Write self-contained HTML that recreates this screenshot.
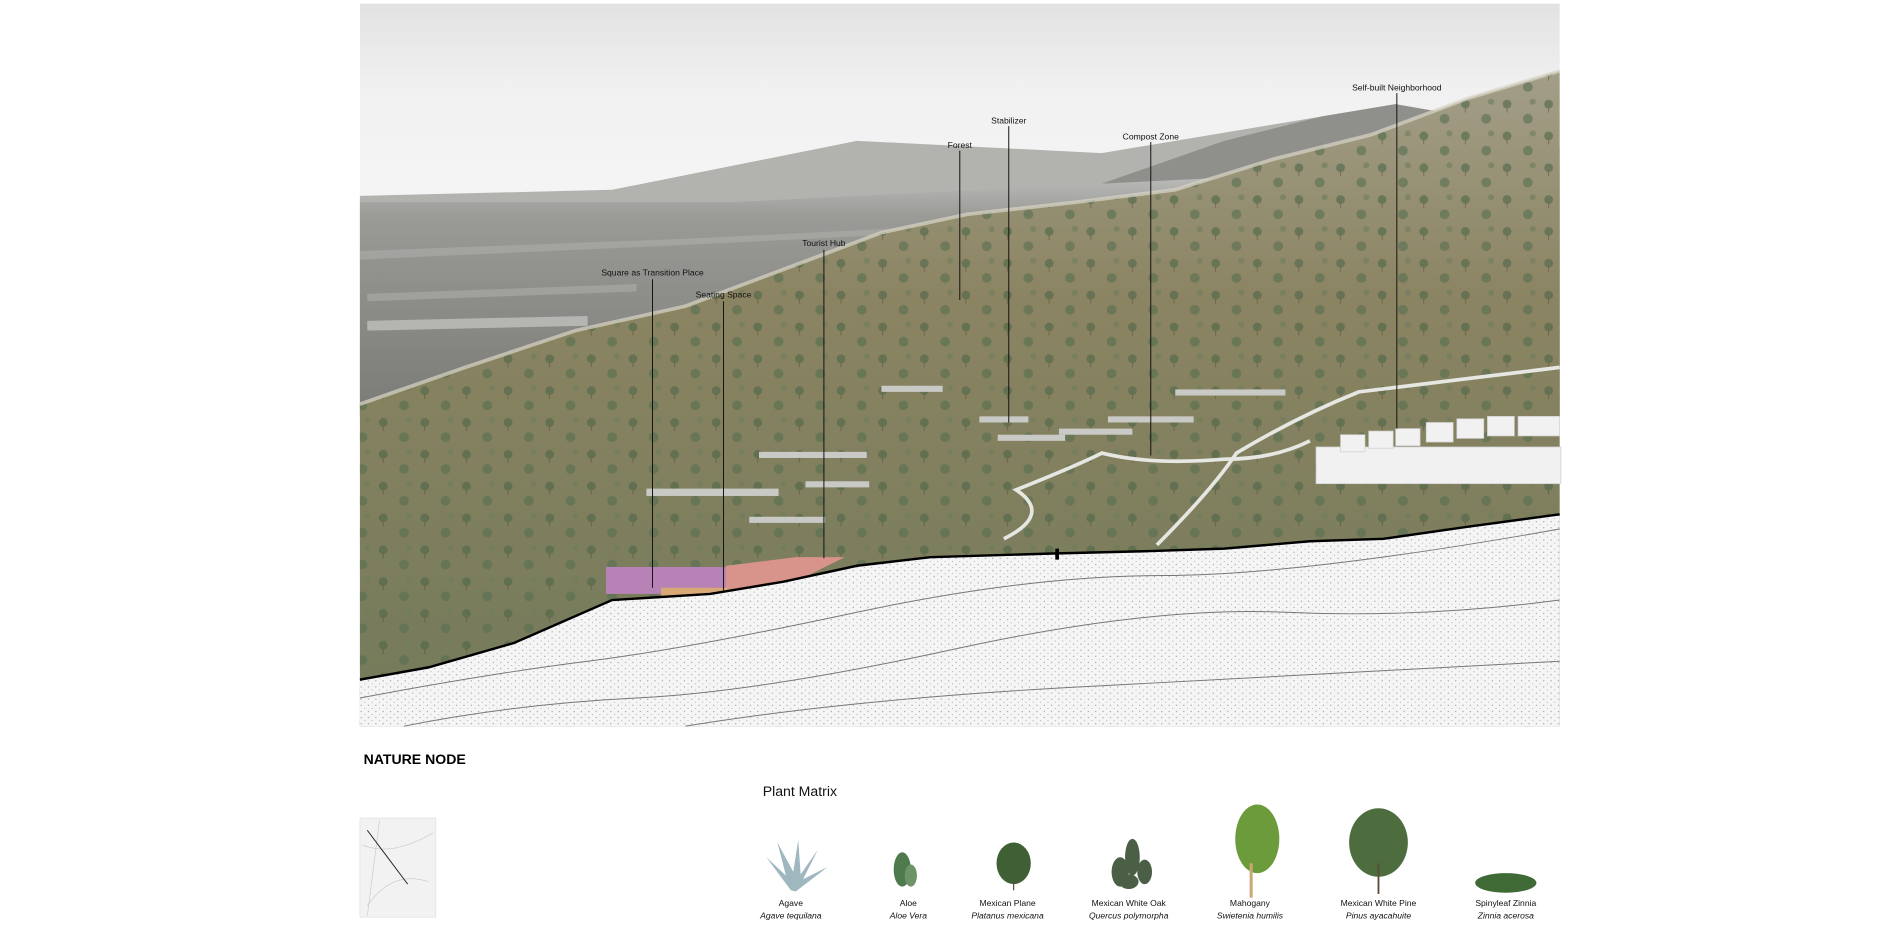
<!DOCTYPE html>
<html><head><meta charset="utf-8"><style>
html,body{margin:0;padding:0;background:#fff;}
svg{display:block;}
text{font-family:"Liberation Sans",sans-serif;}
</style></head><body>
<svg width="1900" height="927" viewBox="0 0 1552 757" preserveAspectRatio="none" xmlns="http://www.w3.org/2000/svg">
<defs>
<linearGradient id="sky" x1="0" y1="0" x2="0" y2="1">
<stop offset="0" stop-color="#e2e2e2"/><stop offset="0.12" stop-color="#f1f1f1"/><stop offset="0.25" stop-color="#f4f4f4"/><stop offset="1" stop-color="#dcdcda"/>
</linearGradient>
<linearGradient id="valley" x1="0" y1="0" x2="0" y2="1">
<stop offset="0" stop-color="#c4c4c2"/><stop offset="0.2" stop-color="#9a9a97"/><stop offset="0.6" stop-color="#8a8a86"/><stop offset="1" stop-color="#7a7b76"/>
</linearGradient>
<linearGradient id="hill" x1="0" y1="0" x2="0" y2="1">
<stop offset="0" stop-color="#a39e88"/><stop offset="0.35" stop-color="#8b8462"/><stop offset="1" stop-color="#737a5a"/>
</linearGradient>
<pattern id="trees" width="34" height="26" patternUnits="userSpaceOnUse">
<circle cx="7" cy="7" r="3.6" fill="#4d6648"/><circle cx="24" cy="19" r="4" fill="#566f50"/><circle cx="28" cy="5" r="2.5" fill="#6d7d5c"/>
<line x1="7" y1="10" x2="7" y2="14" stroke="#5a4a3a" stroke-width="0.7"/>
</pattern>
<pattern id="dots" width="6" height="5" patternUnits="userSpaceOnUse">
<rect width="6" height="5" fill="#f5f5f5"/><circle cx="1" cy="1" r="0.5" fill="#999"/><circle cx="4" cy="3.5" r="0.45" fill="#aaa"/>
</pattern>
</defs>
<rect x="294" y="3" width="980" height="590" fill="url(#sky)"/>
<!-- far mountain -->
<path d="M294 160 L500 155 L700 115 L900 125 L1050 100 L1140 85 L1180 95 L1274 120 L1274 340 L294 340Z" fill="#b2b2af"/>
<path d="M900 150 L1000 115 L1080 95 L1140 85 L1180 92 L1200 110 L1100 150Z" fill="#8f8f8b"/>
<path d="M294 165 L600 165 L800 155 L1000 145 L1274 135 L1274 340 L294 340Z" fill="url(#valley)"/>
<g fill="#a9a9a6" opacity="0.7">
<path d="M294 205 L560 195 L760 185 L760 190 L560 200 L294 212Z"/>
<path d="M300 240 L520 232 L520 238 L300 246Z"/>
<path d="M300 262 L480 258 L480 266 L300 270Z" fill="#c8c8c6"/>
</g>
<!-- hill -->
<path d="M294 330 L380 300 L470 270 L560 250 L640 220 L720 190 L790 175 L880 165 L960 155 L1040 130 L1120 110 L1200 80 L1274 58 L1274 593 L294 593Z" fill="url(#hill)"/>
<path d="M294 330 L380 300 L470 270 L560 250 L640 220 L720 190 L790 175 L880 165 L960 155 L1040 130 L1120 110 L1200 80 L1274 58 L1274 593 L294 593Z" fill="url(#trees)" opacity="0.6"/>
<path d="M294 330 L380 300 L470 270 L560 250 L640 220 L720 190 L790 175 L880 165 L960 155 L1040 130 L1120 110 L1200 80 L1274 58" stroke="#d8d6c8" stroke-width="3" fill="none" opacity="0.7"/>
<!-- retaining walls -->
<g fill="#c9c9c6">
<rect x="528" y="399" width="108" height="6"/><rect x="612" y="422" width="62" height="5"/><rect x="658" y="393" width="52" height="5"/>
<rect x="620" y="369" width="88" height="5"/><rect x="720" y="315" width="50" height="5"/><rect x="800" y="340" width="40" height="5"/>
<rect x="815" y="355" width="55" height="5"/><rect x="865" y="350" width="60" height="5"/><rect x="905" y="340" width="70" height="5"/>
<rect x="960" y="318" width="90" height="5"/>
</g>
<path d="M820 440 Q860 420 830 400 Q880 380 900 370 Q940 380 1000 375 Q1040 375 1070 360" stroke="#e6e6e2" stroke-width="3" fill="none"/>
<path d="M945 445 Q990 400 1010 370 Q1060 340 1110 320 L1274 300" stroke="#e6e6e2" stroke-width="3" fill="none"/>
<!-- white cubes -->
<g fill="#f1f1f1" stroke="#cfcfcf" stroke-width="0.6">
<rect x="1075" y="365" width="200" height="30"/>
<rect x="1095" y="355" width="20" height="14"/><rect x="1118" y="352" width="20" height="14"/><rect x="1140" y="350" width="20" height="14"/>
<rect x="1165" y="345" width="22" height="16"/><rect x="1190" y="342" width="22" height="16"/><rect x="1215" y="340" width="22" height="16"/><rect x="1240" y="340" width="34" height="16"/>
</g>
<!-- buildings -->
<rect x="495" y="463" width="98" height="22" fill="#b783b6"/>
<polygon points="593,462 650,455 690,455 660,470 593,487" fill="#d8938a"/>
<rect x="540" y="480" width="55" height="8" fill="#d9a877"/>
<!-- ground section -->
<path d="M294 555 L350 545 L420 525 L500 490 L580 485 L640 475 L700 462 L760 455 L860 452 L940 450 L1000 448 L1070 442 L1130 440 L1200 430 L1274 420 L1274 593 L294 593Z" fill="url(#dots)"/>
<path d="M294 555 L350 545 L420 525 L500 490 L580 485 L640 475 L700 462 L760 455 L860 452 L940 450 L1000 448 L1070 442 L1130 440 L1200 430 L1274 420" stroke="#000" stroke-width="2" fill="none"/>
<g stroke="#777" stroke-width="0.8" fill="none">
<path d="M294 570 Q400 550 480 540 T700 500 T950 470 T1274 432"/>
<path d="M330 593 Q420 575 520 570 T780 530 T1050 500 T1274 490"/>
<path d="M560 593 Q700 570 900 560 T1274 540"/>
</g>
<rect x="862" y="448" width="3" height="9" fill="#000"/>
<!-- labels -->
<g stroke="#111" stroke-width="0.8">
<line x1="533" y1="228" x2="533" y2="480"/><line x1="591" y1="246" x2="591" y2="482"/>
<line x1="673" y1="204" x2="673" y2="456"/><line x1="784" y1="123" x2="784" y2="245"/>
<line x1="824" y1="103" x2="824" y2="345"/><line x1="940" y1="116" x2="940" y2="372"/>
<line x1="1141" y1="76" x2="1141" y2="350"/>
</g>
<g font-size="7" fill="#111" text-anchor="middle">
<text x="533" y="225">Square as Transition Place</text>
<text x="591" y="243">Seating Space</text>
<text x="673" y="201">Tourist Hub</text>
<text x="784" y="121">Forest</text>
<text x="824" y="101">Stabilizer</text>
<text x="940" y="114">Compost Zone</text>
<text x="1141" y="74">Self-built Neighborhood</text>
</g>
<text x="297" y="624" font-size="11.5" font-weight="bold" fill="#000">NATURE NODE</text>
<text x="623" y="650" font-size="11.5" fill="#111">Plant Matrix</text>
<!-- map thumb -->
<rect x="294" y="668" width="62" height="81" fill="#f2f2f2" stroke="#ddd" stroke-width="0.5"/>
<g stroke="#c8c8c8" stroke-width="0.5" fill="none"><path d="M296 690 Q320 700 354 680"/><path d="M300 740 Q320 710 350 720"/><path d="M310 670 L300 748"/></g>
<line x1="300" y1="678" x2="333" y2="722" stroke="#222" stroke-width="0.8"/>
<!-- plants -->
<g fill="#9fb7bf"><polygon points="646,727 626,700 642,715 635,688 648,712 652,686 654,714 668,694 656,718 676,708 650,728"/></g>
<g fill="#4f7a4e"><ellipse cx="737" cy="710" rx="7" ry="14"/><ellipse cx="744" cy="715" rx="5" ry="9" fill="#6c9467"/></g>
<ellipse cx="828" cy="705" rx="14" ry="17" fill="#3f5f35"/><line x1="828" y1="720" x2="828" y2="727" stroke="#5a4a3a"/>
<g fill="#4b5e46"><ellipse cx="915" cy="712" rx="7" ry="12"/><ellipse cx="925" cy="700" rx="6" ry="15"/><ellipse cx="935" cy="712" rx="6" ry="10"/><ellipse cx="922" cy="720" rx="8" ry="6"/></g>
<ellipse cx="1027" cy="685" rx="18" ry="28" fill="#6b9b3a"/><line x1="1022" y1="705" x2="1022" y2="733" stroke="#c9a874" stroke-width="2.5"/>
<ellipse cx="1126" cy="688" rx="24" ry="28" fill="#4e6d3e"/><line x1="1126" y1="705" x2="1126" y2="730" stroke="#5a4a3a" stroke-width="1.5"/>
<ellipse cx="1230" cy="721" rx="25" ry="8" fill="#3f6a35"/>
<g font-size="7" fill="#111" text-anchor="middle">
<text x="646" y="740">Agave</text><text x="742" y="740">Aloe</text><text x="823" y="740">Mexican Plane</text>
<text x="922" y="740">Mexican White Oak</text><text x="1021" y="740">Mahogany</text><text x="1126" y="740">Mexican White Pine</text><text x="1230" y="740">Spinyleaf Zinnia</text>
</g>
<g font-size="7" fill="#111" text-anchor="middle" font-style="italic">
<text x="646" y="750">Agave tequilana</text><text x="742" y="750">Aloe Vera</text><text x="823" y="750">Platanus mexicana</text>
<text x="922" y="750">Quercus polymorpha</text><text x="1021" y="750">Swietenia humilis</text><text x="1126" y="750">Pinus ayacahuite</text><text x="1230" y="750">Zinnia acerosa</text>
</g>
</svg>
</body></html>
